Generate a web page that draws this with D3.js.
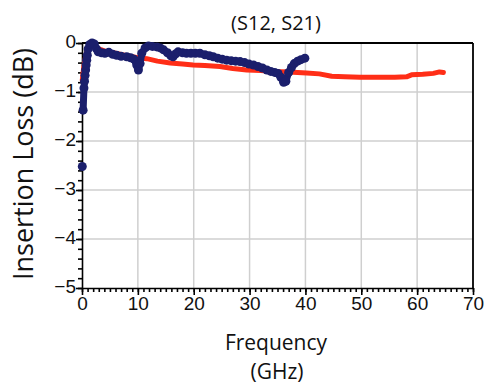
<!DOCTYPE html>
<html>
<head>
<meta charset="utf-8">
<script src="https://cdn.jsdelivr.net/npm/d3@7"></script>
<style>
  body { margin: 0; background: #fff; }
  svg { display: block; font-family: "Open Sans", "DejaVu Sans", sans-serif; }
  .grid line { stroke: #cfcfcf; stroke-width: 1.5; }
  .axis path, .axis line { stroke: #000; stroke-width: 1.6; }
  .axis text { font-size: 19px; fill: #111; }
</style>
</head>
<body>
<div id="chart"></div>
<script>
  const width = 490,
      height = 389;

  // S21 (red) - frequency in GHz, insertion loss in dB
  const redFreq = [0.05, 0.3, 0.6, 1.0, 1.5, 2.5, 4.0, 6.0, 8.0, 10.0, 11.6, 13.5, 15.8, 18.0, 19.9, 22.0,
    24.7, 27.0, 29.5, 32.0, 34.2, 37.0, 40.2, 42.5, 44.7, 47.0, 49.8, 53.0, 56.0, 58.1, 59.0, 61.0,
    62.9, 64.0, 64.7];
  const redLoss = [-0.76, -0.5, -0.3, -0.1, -0.05, -0.1, -0.16, -0.21, -0.26, -0.3, -0.32, -0.37, -0.41, -0.43, -0.45, -0.46,
    -0.48, -0.52, -0.55, -0.56, -0.58, -0.59, -0.61, -0.63, -0.68, -0.69, -0.70, -0.70, -0.70, -0.69, -0.65, -0.64,
    -0.62, -0.59, -0.6];

  // S12 (blue, with markers)
  const blueFreq = [0.05, 0.2, 0.35, 0.45, 0.55, 0.65, 0.75, 0.85, 0.95, 1.1, 1.4, 1.8, 2.2, 2.6, 2.9, 3.5,
    4.1, 4.8, 5.5, 6.2, 7.0, 8.0, 8.7, 9.3, 9.8, 10.1, 10.4, 10.7, 11.3, 11.9, 12.6, 13.4,
    14.0, 14.6, 15.3, 15.9, 16.3, 16.8, 17.2, 18.0, 18.7, 19.5, 20.3, 21.1, 22.0, 22.8, 23.5, 24.3,
    25.1, 25.9, 26.7, 27.5, 28.3, 29.1, 29.9, 30.7, 31.5, 32.3, 33.1, 33.8, 34.5, 35.1, 35.6, 36.1,
    36.5, 37.0, 37.5, 38.0, 38.6, 39.2, 39.9];
  const blueLoss = [-2.52, -1.37, -0.92, -0.78, -0.66, -0.55, -0.45, -0.35, -0.25, -0.12, -0.03, 0.0, -0.02, -0.12, -0.18, -0.2,
    -0.21, -0.19, -0.23, -0.25, -0.27, -0.28, -0.3, -0.33, -0.45, -0.55, -0.42, -0.21, -0.1, -0.06, -0.07, -0.08,
    -0.1, -0.14, -0.2, -0.26, -0.28, -0.22, -0.18, -0.2, -0.21, -0.21, -0.21, -0.21, -0.24, -0.26, -0.28, -0.31,
    -0.33, -0.35, -0.36, -0.37, -0.38, -0.4, -0.43, -0.45, -0.48, -0.51, -0.55, -0.58, -0.6, -0.62, -0.7, -0.8,
    -0.78, -0.6, -0.5, -0.42, -0.37, -0.34, -0.31];

  const xTicks = [0, 10, 20, 30, 40, 50, 60, 70];
  const yTicks = [0, -1, -2, -3, -4, -5];

  const margin = { top: 43, right: 17, bottom: 101, left: 82 };
  const innerW = width - margin.left - margin.right,
      innerH = height - margin.top - margin.bottom;

  const svg = d3.select("#chart").append("svg")
      .attr("width", width)
      .attr("height", height);

  const g = svg.append("g").attr("transform", `translate(${margin.left},${margin.top})`);

  const x = d3.scaleLinear().domain([0, 70]).range([0, innerW]);
  const y = d3.scaleLinear().domain([-5, 0]).range([innerH, 0]);

  // grid
  g.append("g").attr("class", "grid")
    .selectAll("line.v").data(xTicks.slice(1, -1)).enter().append("line")
    .attr("x1", d => x(d)).attr("x2", d => x(d)).attr("y1", 0).attr("y2", innerH);
  g.append("g").attr("class", "grid")
    .selectAll("line.h").data(yTicks.slice(1, -1)).enter().append("line")
    .attr("x1", 0).attr("x2", innerW).attr("y1", d => y(d)).attr("y2", d => y(d));

  // frame top + right
  g.append("line").attr("x1", 0).attr("x2", innerW).attr("y1", 0).attr("y2", 0)
    .attr("stroke", "#000").attr("stroke-width", 1.8);
  g.append("line").attr("x1", innerW).attr("x2", innerW).attr("y1", 0).attr("y2", innerH)
    .attr("stroke", "#000").attr("stroke-width", 1.8);

  // minor ticks
  g.append("g").attr("class", "axis")
    .attr("transform", `translate(0,${innerH})`)
    .call(d3.axisBottom(x).tickValues(d3.range(0, 71, 1)).tickSize(4).tickFormat(""))
    .select(".domain").remove();
  g.append("g").attr("class", "axis")
    .call(d3.axisLeft(y).tickValues(d3.range(-25, 1).map(d => d / 5)).tickSize(4).tickFormat(""))
    .select(".domain").remove();

  // major axes
  g.append("g").attr("class", "axis")
    .attr("transform", `translate(0,${innerH})`)
    .call(d3.axisBottom(x).tickValues(xTicks).tickSize(7).tickSizeOuter(0).tickPadding(2).tickFormat(d3.format("d")));
  g.append("g").attr("class", "axis")
    .call(d3.axisLeft(y).tickValues(yTicks).tickSize(6).tickSizeOuter(0).tickPadding(0).tickFormat(d3.format("d")))
    .selectAll("text").attr("dy", "0.25em");

  // red line
  const redLine = d3.line().x((d, i) => x(redFreq[i])).y(d => y(d));
  g.append("path").datum(redLoss)
    .attr("fill", "none")
    .attr("stroke", "#ff2e17")
    .attr("stroke-width", 5)
    .attr("stroke-linejoin", "round")
    .attr("stroke-linecap", "round")
    .attr("d", redLine);

  // blue line + markers
  g.append("path").datum(blueLoss.slice(1))
    .attr("fill", "none")
    .attr("stroke", "#1b1f6c")
    .attr("stroke-width", 7)
    .attr("stroke-linejoin", "round")
    .attr("d", d3.line().x((d, i) => x(blueFreq[i + 1])).y(d => y(d)));
  g.selectAll(".dot")
    .data(blueLoss).enter().append("circle")
    .attr("class", "dot")
    .attr("cx", (d, i) => x(blueFreq[i]))
    .attr("cy", d => y(d))
    .attr("r", 4.5)
    .attr("fill", "#1b1f6c");

  // titles
  svg.append("text")
    .attr("x", 276).attr("y", 30)
    .attr("text-anchor", "middle")
    .style("font-size", "20px")
    .attr("fill", "#111")
    .text("(S12, S21)");

  svg.append("text")
    .attr("transform", "translate(33,164) rotate(-90)")
    .attr("text-anchor", "middle")
    .attr("textLength", 232)
    .attr("lengthAdjust", "spacingAndGlyphs")
    .style("font-size", "27px")
    .attr("fill", "#111")
    .text("Insertion Loss (dB)");

  svg.append("text")
    .attr("x", 276).attr("y", 350)
    .attr("text-anchor", "middle")
    .style("font-size", "21px")
    .attr("fill", "#111")
    .text("Frequency");

  svg.append("text")
    .attr("x", 277).attr("y", 379)
    .attr("text-anchor", "middle")
    .style("font-size", "21px")
    .attr("fill", "#111")
    .text("(GHz)");
</script>
</body>
</html>
